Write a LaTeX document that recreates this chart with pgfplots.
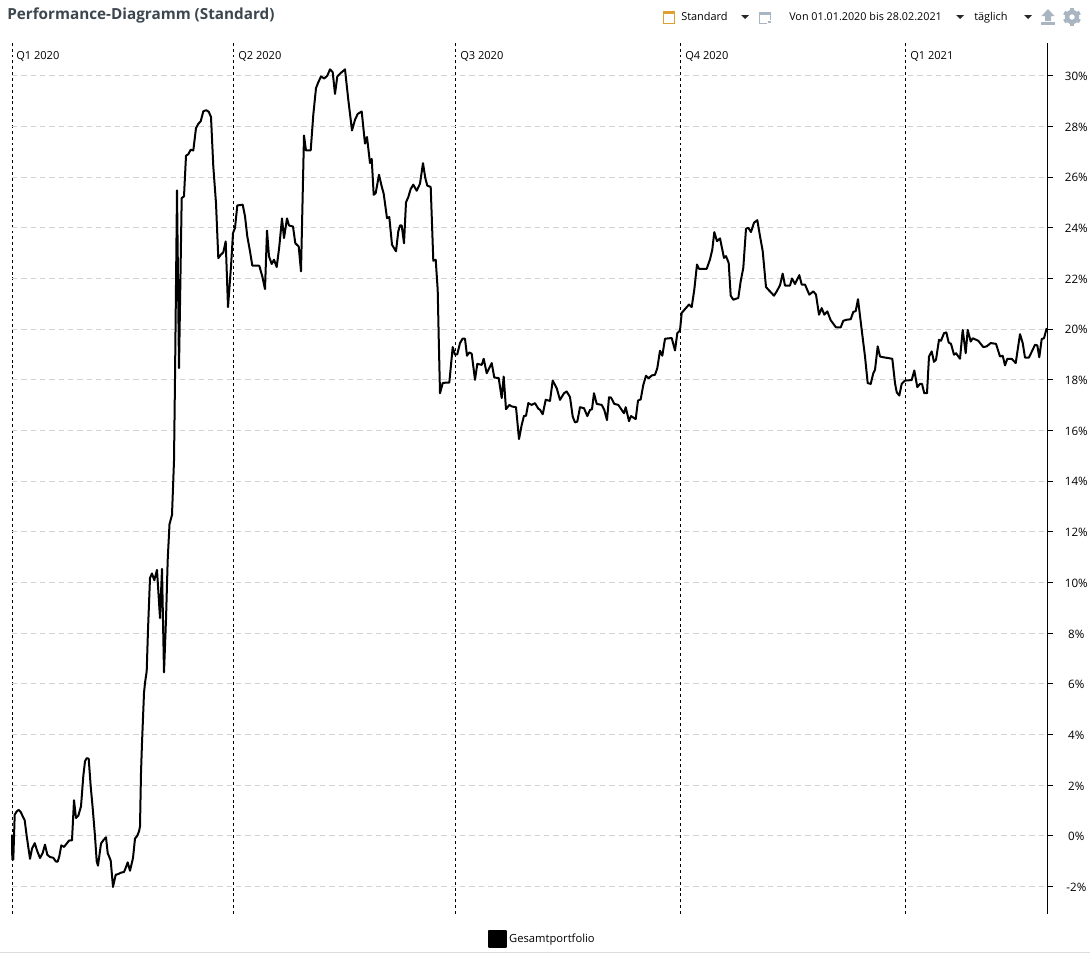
\documentclass[border=0pt]{standalone}
\usepackage{fontspec}
\setmainfont{Open Sans}
\usepackage{pgfplots}
\usepackage{pgfplotstable}
\pgfplotsset{compat=1.18}
\definecolor{titleInk}{HTML}{3C464E}
\definecolor{gridL}{HTML}{D2D2D2}
\definecolor{iconG}{HTML}{A9B6C2}
\definecolor{iconO}{HTML}{E0A030}
\definecolor{frameL}{HTML}{DDDDDD}
% x = horizontal position on the time axis (1 unit = 1 screen px), y = performance in %
\pgfplotstableread{
x y
12 0.05
12.3 -0.93
13.3 -0.93
14.7 0.84
16.7 0.97
18.7 1.03
20.7 0.95
22.7 0.78
24.7 0.62
26.7 0
30 -0.9
32 -0.5
34.7 -0.28
37.3 -0.6
40 -0.87
42.7 -0.67
45 -0.34
47.3 -0.74
50 -0.83
53.3 -0.86
56 -1.01
57.7 -1.01
59.3 -0.8
61.3 -0.37
64 -0.43
66.7 -0.3
69 -0.18
72 -0.17
74 1.41
76 0.71
78.3 0.8
81 1.17
83.3 2.36
85 2.95
86.7 3.07
88.7 3.05
90.7 1.96
92.7 1.1
95 -0.01
96.7 -1.0
98 -1.17
101 -0.3
103.3 -0.17
106 -0.05
107.7 -0.67
110.7 -0.97
113 -2.01
115.7 -1.53
118.3 -1.5
120.7 -1.45
124 -1.42
125.7 -1.26
127.7 -1.04
130 -1.37
133 -0.87
135 -0.1
137 -0.01
139 0.18
140 0.38
141 2.49
142 3.67
144 5.64
145 6.04
146.7 6.5
148 8.14
150 10.18
152 10.36
154.3 10.09
157 10.5
160 8.6
162 10.54
164 6.46
166 8.54
167.7 10.9
169.5 12.3
172 12.67
174 14.8
175 18.03
177 25.47
179 18.46
181.7 25.17
184 25.24
186 26.84
188.3 26.9
190.7 27.08
193.3 27.05
196 27.93
198.3 28.1
200.7 28.2
203.3 28.59
206 28.64
208.7 28.58
211 28.37
213.3 26.42
216 24.97
218.3 22.8
220.7 22.93
223.3 23.03
225.7 23.46
228 20.87
231 22.47
233 23.79
235 23.99
237.3 24.88
242.7 24.91
245 24.45
247.3 23.66
250 23.07
252.3 22.51
259.3 22.5
262.3 22.08
265 21.58
267 23.89
269 22.87
271.7 22.57
274 22.74
276.7 22.45
279.3 23.26
282 24.37
284 23.59
287 24.37
289 24.09
293 24.05
295.3 23.39
298.7 23.26
301 22.28
304 27.64
306 27.05
310.7 27.05
313.3 28.46
316 29.51
318.3 29.74
321 29.97
324.3 29.89
327.3 30
330 30.25
332.7 30.14
335 29.28
337.3 29.97
340 30.08
345 30.25
348.3 29.05
352 27.84
355 28.26
357.7 28.49
361.7 28.59
365 27.32
367 27.58
370 26.55
371.7 26.72
373.7 25.3
375.7 25.37
379 26.09
381.7 25.63
383.7 25.34
387 24.38
389.3 24.42
392 23.33
396 23.07
398.3 23.86
400 24.09
401.7 24.09
404 23.39
406 25
408.3 25.21
410.7 25.53
413.3 25.7
416.7 25.46
420 25.74
423 26.55
425.3 25.96
427.3 25.66
430.7 25.61
433.3 22.7
435.7 22.74
437.7 21.55
438.7 19.7
440 17.47
442.7 17.87
446 17.89
449.3 17.89
452.7 19.29
455 18.99
457.3 19.01
460 19.45
462.7 19.63
465 19.62
467 18.95
469.3 19.08
471.7 19.03
475 18
477.3 18.63
481.7 18.59
483.7 18.83
486.7 18.26
491.7 18.66
494.3 18.09
498.7 18.07
501.7 17.28
503.7 18.13
506 16.84
509.3 17.01
511.7 16.95
516 16.92
519 15.66
521.7 16.22
524 16.58
526 16.58
528.3 17.08
531.7 17.01
535 17.08
538.3 16.86
540 16.82
542.7 16.64
545.7 17.21
550 17.17
552.7 17.97
556.7 17.67
560 17.21
564 17.47
566.7 17.54
570 17.32
572.7 16.55
575 16.32
577.3 16.35
580 16.92
584 16.88
587.3 16.57
590 16.81
592 16.84
594 17.47
596.7 17.05
601.7 17.01
604.3 16.81
607 16.41
609 17.31
611 17.3
614.3 17.05
618.3 17.01
621.7 16.81
624 16.68
625.7 16.92
629 16.37
631 16.57
635.7 16.45
638 17.18
640.7 17.23
643.3 17.8
646 18.16
648.7 18.06
651.7 18.17
655 18.2
657.3 18.46
660 19.15
662.3 18.95
665 19.62
671.7 19.65
675 19.16
677.3 19.84
680 19.95
681.7 20.64
685 20.79
689 20.97
691.7 20.87
694.3 21.56
697 22.55
699 22.38
706.7 22.38
710 22.75
712.3 23.14
714.3 23.83
717 23.47
720 23.58
724 22.81
726 22.88
728.7 22.61
730.7 21.32
733.3 21.16
738.3 21.23
740.7 21.89
743.3 22.42
746 23.96
748.3 24
751 23.83
754 24.2
757.3 24.3
760 23.67
762.7 23.08
766 21.66
769 21.53
774 21.32
776.7 21.49
780 21.73
782.7 22.19
785 21.72
790 21.72
792 22
795 21.78
799.3 22.13
801.7 21.76
805 21.76
809.3 21.36
813.3 21.49
816 21.36
819 20.57
821.7 20.83
824.3 20.57
827.3 20.7
830.7 20.35
836 20.07
840.7 20.07
843.3 20.33
846.7 20.37
850.7 20.39
853.3 20.68
855.7 20.71
858 21.18
861.7 19.97
865 18.92
867.7 17.87
870.7 17.84
873.3 18.26
875 18.39
877.7 19.32
880 18.92
883.3 18.89
892.3 18.83
895 17.87
896.7 17.51
899.3 17.38
901.7 17.84
905 17.97
911.7 17.99
914.3 18.37
917.3 17.71
920 17.84
922 17.84
924.3 17.47
927 17.47
929 18.92
931.7 19.12
934 18.71
936 18.79
939 19.58
941 19.54
944 19.84
946.3 19.87
948.7 19.47
951 19.42
954 18.99
956 19.05
960 18.83
962.7 19.97
965.7 19.05
967.7 19.97
970.7 19.51
972.7 19.64
978.3 19.54
983.3 19.29
986.7 19.32
990.7 19.45
996 19.42
1000 18.92
1002.7 18.95
1005 18.57
1007.3 18.83
1011.7 18.83
1015.7 18.66
1020 19.8
1022.7 19.45
1025 18.88
1029 18.88
1035 19.38
1037.3 19.36
1039.3 18.89
1041.7 19.61
1044 19.64
1046.7 20.04
}\perfdata
\begin{document}
\begin{tikzpicture}[x=0.75pt,y=-0.75pt]
\useasboundingbox (0,0) rectangle (1090,953);
\begin{axis}[
    at={(9pt,-685.5pt)}, anchor=south west,
    scale only axis, width=776.25pt, height=653.25pt,
    xmin=12, xmax=1047, ymin=-3.078, ymax=31.29,
    axis y line=right, axis x line=bottom,
    axis line style={-},
    x axis line style={draw=none},
    y axis line style={black, line width=0.75pt},
    xtick={12,233.5,455.5,680.5,905.5}, xticklabels={},
    ytick={-2,0,...,30},
    yticklabel={\pgfmathprintnumber{\tick}\%},
    yticklabel style={font=\fontsize{8.7}{10}\selectfont, anchor=center, xshift=17.5pt, yshift=-0.5pt},
    /pgf/number format/assume math mode=true,
    xmajorgrids, ymajorgrids,
    x grid style={black, line width=0.75pt, dash pattern=on 2.2pt off 2.2pt},
    y grid style={gridL, line width=0.75pt, dash pattern=on 4pt off 3pt},
    major tick length=4.5pt,
    xtick style={draw=none},
    ytick style={black, line width=0.75pt},
    tick align=outside,
    clip=false,
    legend style={at={(axis cs:488,-4.06)}, anchor=west, draw=none, fill=none,
      font=\fontsize{8.4}{10}\selectfont, inner sep=0pt, outer sep=0pt,
      /tikz/every even column/.append style={column sep=0pt}},
    legend image code/.code={\fill[black] (0pt,-6.2pt) rectangle (12.4pt,6.2pt);},
    legend cell align=left,
  ]
  \addplot[black, line width=1.5pt, line join=round] table[x=x,y=y] {\perfdata};
  \addlegendentry{Gesamtportfolio}
  \node[anchor=west, font=\fontsize{8.3}{10}\selectfont, inner sep=0pt] at (axis cs:16,30.75) {Q1 2020};
  \node[anchor=west, font=\fontsize{8.3}{10}\selectfont, inner sep=0pt] at (axis cs:238,30.75) {Q2 2020};
  \node[anchor=west, font=\fontsize{8.3}{10}\selectfont, inner sep=0pt] at (axis cs:460,30.75) {Q3 2020};
  \node[anchor=west, font=\fontsize{8.3}{10}\selectfont, inner sep=0pt] at (axis cs:685,30.75) {Q4 2020};
  \node[anchor=west, font=\fontsize{8.3}{10}\selectfont, inner sep=0pt] at (axis cs:910,30.75) {Q1 2021};
\end{axis}
% header
\node[anchor=base west, inner sep=0pt, text=titleInk, font=\fontsize{11.45}{12}\selectfont\bfseries] at (7,19) {Performance-Diagramm (Standard)};
\node[anchor=base west, inner sep=0pt, font=\fontsize{8.2}{10}\selectfont] at (681,21) {Standard};
\node[anchor=base west, inner sep=0pt, font=\fontsize{8.1}{10}\selectfont] at (789,21) {Von 01.01.2020 bis 28.02.2021};
\node[anchor=base west, inner sep=0pt, font=\fontsize{8.2}{10}\selectfont] at (974,21) {täglich};
\draw[iconO, line width=0.75pt, fill=white] (663.5,11.5) rectangle (674.5,23.5);
\fill[iconO] (663,11) rectangle (675,14);
\foreach \tx in {745,960,1028} \fill[black!85] (\tx-4,15) -- (\tx+4,15) -- (\tx,19) -- cycle;
\draw[iconG, line width=0.75pt] (759.5,12.5) rectangle (770.5,23.5);
\fill[iconG] (759,12) rectangle (771,15);
\fill[white] (767,20) rectangle (772,25);
\fill[iconG] (767.5,21) rectangle (770.5,23);
\fill[iconG] (1048,9) -- (1054.5,16) -- (1051,16) -- (1051,21) -- (1045,21) -- (1045,16) -- (1041.5,16) -- cycle;
\fill[iconG] (1041,22) rectangle (1055,25);
\fill[iconG, even odd rule] (1072,17) circle (7.2) (1072,17) circle (2.8);
\foreach \a in {0,60,...,300} \fill[iconG, rotate around={\a:(1072,17)}] (1070,8) rectangle (1074,11);
\fill[frameL] (0,952) rectangle (1090,953);
\end{tikzpicture}
\end{document}
